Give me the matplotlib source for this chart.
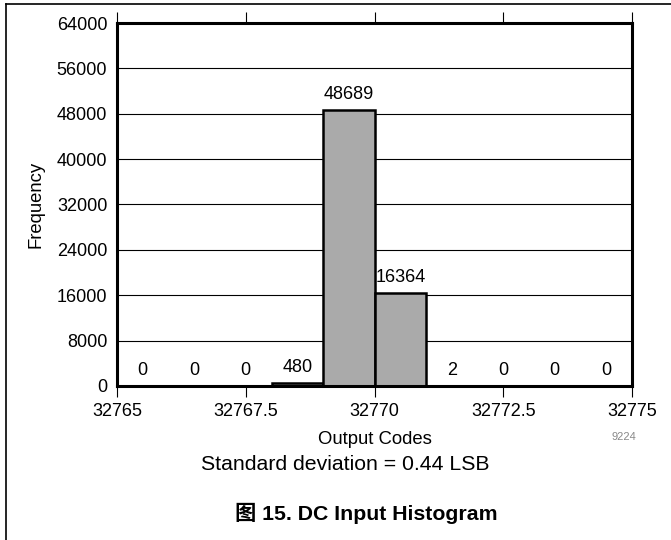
import numpy as np
import matplotlib
matplotlib.use('Agg')
import matplotlib.pyplot as plt
from matplotlib.lines import Line2D

plt.rcParams['font.family'] = ['Liberation Sans', 'Noto Sans CJK SC', 'DejaVu Sans']

# Histogram data
bin_edges = [32765, 32766, 32767, 32768, 32769, 32770, 32771, 32772, 32773, 32774, 32775]
counts = [0, 0, 0, 480, 48689, 16364, 2, 0, 0, 0]
x_ticks = [32765, 32767.5, 32770, 32772.5, 32775]
x_tick_labels = ['32765', '32767.5', '32770', '32772.5', '32775']
y_ticks = [0, 8000, 16000, 24000, 32000, 40000, 48000, 56000, 64000]

fig = plt.figure(figsize=(6.71, 5.40), dpi=100)
ax = fig.add_axes([0.1744, 0.2852, 0.7675, 0.6722])

lefts = np.array(bin_edges[:-1])
widths = np.diff(bin_edges)
bars = ax.bar(lefts, counts, width=widths, align='edge', color='#aaaaaa',
              edgecolor='black', linewidth=1.8, zorder=3)
ax.bar_label(bars, labels=[str(c) for c in counts], padding=5, fontsize=13)

ax.set_xlim(bin_edges[0], bin_edges[-1])
ax.set_ylim(0, 64000)
ax.set_xticks(x_ticks)
ax.set_xticklabels(x_tick_labels, fontsize=13)
ax.set_yticks(y_ticks)
ax.set_yticklabels([str(v) for v in y_ticks], fontsize=13)
ax.yaxis.grid(True, color='black', linewidth=0.8, zorder=0)
ax.set_axisbelow(True)

ax.tick_params(axis='y', length=0, pad=7)
ax.tick_params(axis='x', top=True, direction='out', length=8, width=0.8, pad=4)
for t in ax.xaxis.get_major_ticks():
    t.tick2line.set_color('#666666')

for s in ax.spines.values():
    s.set_linewidth(2.2)
    s.set_zorder(4)

ax.set_ylabel('Frequency', fontsize=13.3, labelpad=9)
ax.set_xlabel('Output Codes', fontsize=13.3, labelpad=8)

fig.text(0.912, 0.19, '9224', fontsize=8, color='#888888', ha='left', va='center')
fig.text(0.514, 0.139, 'Standard deviation = 0.44 LSB', fontsize=15.3, ha='center', va='center')
fig.text(0.546, 0.05, '图 15. DC Input Histogram', fontsize=15.3, fontweight='bold',
         ha='center', va='center')

# page frame lines
fig.add_artist(Line2D([0.009, 1.0], [0.9925, 0.9925], color='black', linewidth=1.2))
fig.add_artist(Line2D([0.009, 0.009], [0.0, 0.9925], color='black', linewidth=1.2))

fig.savefig('out.png', dpi=100)
